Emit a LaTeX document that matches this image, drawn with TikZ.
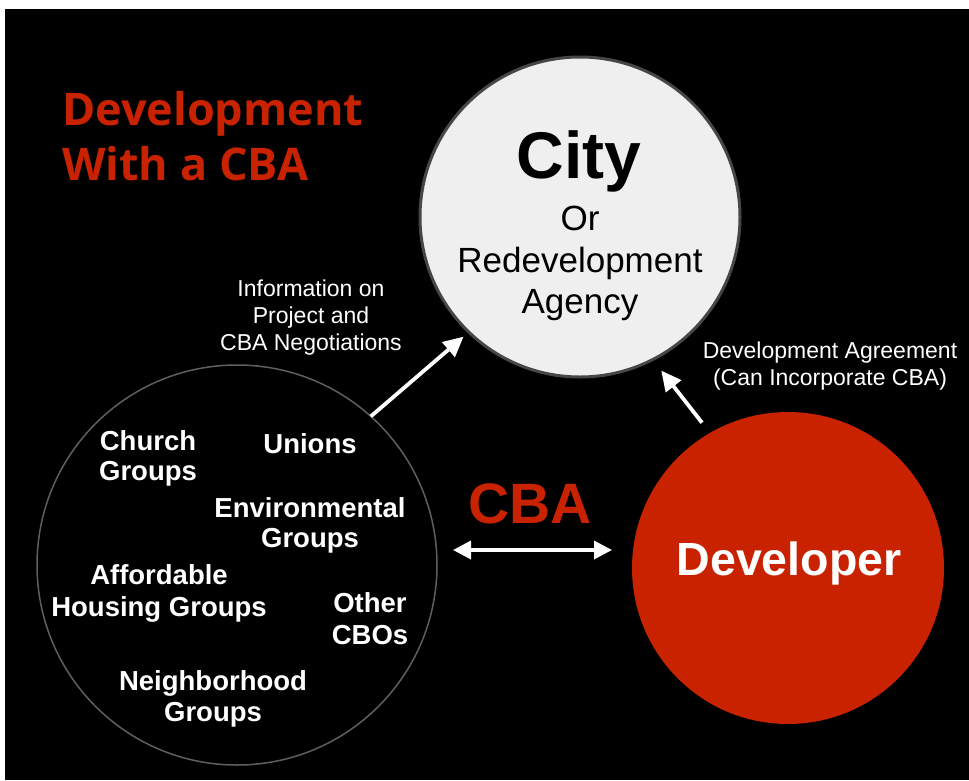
\documentclass[tikz,border=0pt]{standalone}
\usepackage{fontspec}
\setmainfont{Liberation Sans}
\newfontfamily\titlefont{Open Sans}
\usetikzlibrary{arrows.meta}
\definecolor{cbared}{RGB}{200,34,0}
\definecolor{cityfill}{RGB}{239,239,239}
\definecolor{cityline}{RGB}{70,70,70}
\definecolor{commline}{RGB}{95,95,95}
\tikzset{
  bigcircle/.style={circle, inner sep=0pt, outer sep=0pt},
  whitelbl/.style={text=white, font=\fontsize{23}{27}\selectfont, align=center, anchor=base},
  grouplbl/.style={text=white, font=\bfseries\fontsize{27.5}{31}\selectfont, align=center, anchor=base},
  citytxt/.style={text=black, font=\fontsize{35}{41}\selectfont, anchor=base},
  titletxt/.style={anchor=base west, text=cbared, font=\titlefont\bfseries\fontsize{45}{55}\selectfont, inner sep=0pt},
  arr/.style={draw=white, line width=3.8pt, -{Triangle[length=20pt,width=19pt]}},
  arrtwo/.style={draw=white, line width=3.5pt, {Triangle[length=18pt,width=18pt]}-{Triangle[length=18pt,width=18pt]}},
}
\begin{document}
\begin{tikzpicture}[x=1pt,y=-1pt]
\useasboundingbox (0,0) rectangle (969,780);
\fill[white] (0,0) rectangle (969,780);
\fill[black] (5,9) rectangle (969,780);

% circles
\node[bigcircle, draw=commline, line width=1.5pt, minimum size=400pt] (comm) at (237,565) {};
\node[bigcircle, draw=cityline, fill=cityfill, line width=3pt, minimum size=320pt] (city) at (580,217) {};
\node[bigcircle, fill=cbared, minimum size=312pt] (dev) at (788,568) {};

% title
\node[titletxt] (title1) at (62,125) {Development};
\node[titletxt] (title2) at (62,180) {With a CBA};

% city text
\node[anchor=base, text=black, font=\bfseries\fontsize{66}{70}\selectfont, inner sep=0pt] (citytitle) at (579,178) {City};
\node[citytxt, inner sep=0pt] (or) at (580,230) {Or};
\node[citytxt, inner sep=0pt] (redev) at (580,272) {Redevelopment};
\node[citytxt, inner sep=0pt] (agency) at (580,313) {Agency};

% developer
\node[anchor=base, text=white, font=\bfseries\fontsize{46.5}{50}\selectfont, inner sep=0pt] (devtxt) at (789,575) {Developer};

% CBA
\node[anchor=base, text=cbared, font=\bfseries\fontsize{57}{60}\selectfont, inner sep=0pt] (cbatxt) at (530,523) {CBA};

% arrow labels
\node[whitelbl, inner sep=0pt] (info1) at (311,296) {Information on};
\node[whitelbl, inner sep=0pt] (info2) at (311,323) {Project and};
\node[whitelbl, inner sep=0pt] (info3) at (311,350) {CBA Negotiations};
\node[whitelbl, inner sep=0pt] (da1) at (830,358) {Development Agreement};
\node[whitelbl, inner sep=0pt] (da2) at (830,385) {(Can Incorporate CBA)};

% group labels
\node[grouplbl, inner sep=0pt] (church1) at (148,450) {Church};
\node[grouplbl, inner sep=0pt] (church2) at (148,480) {Groups};
\node[grouplbl, inner sep=0pt] (unions) at (310,453) {Unions};
\node[grouplbl, inner sep=0pt] (env1) at (310,517) {Environmental};
\node[grouplbl, inner sep=0pt] (env2) at (310,547) {Groups};
\node[grouplbl, inner sep=0pt] (aff1) at (159,584) {Affordable};
\node[grouplbl, inner sep=0pt] (aff2) at (159,616) {Housing Groups};
\node[grouplbl, inner sep=0pt] (oth1) at (370,612) {Other};
\node[grouplbl, inner sep=0pt] (oth2) at (370,644) {CBOs};
\node[grouplbl, inner sep=0pt] (nb1) at (213,690) {Neighborhood};
\node[grouplbl, inner sep=0pt] (nb2) at (213,721) {Groups};

% connectors
\draw[arr, shorten >=7pt] (comm.48) -- (city.226);
\draw[arr, shorten <=13pt, shorten >=14pt] (dev.120) -- (city.297);
\coordinate (cbaL) at (453,550);
\coordinate (cbaR) at (612,550);
\draw[arrtwo] (cbaL) -- (cbaR);
\end{tikzpicture}
\end{document}
